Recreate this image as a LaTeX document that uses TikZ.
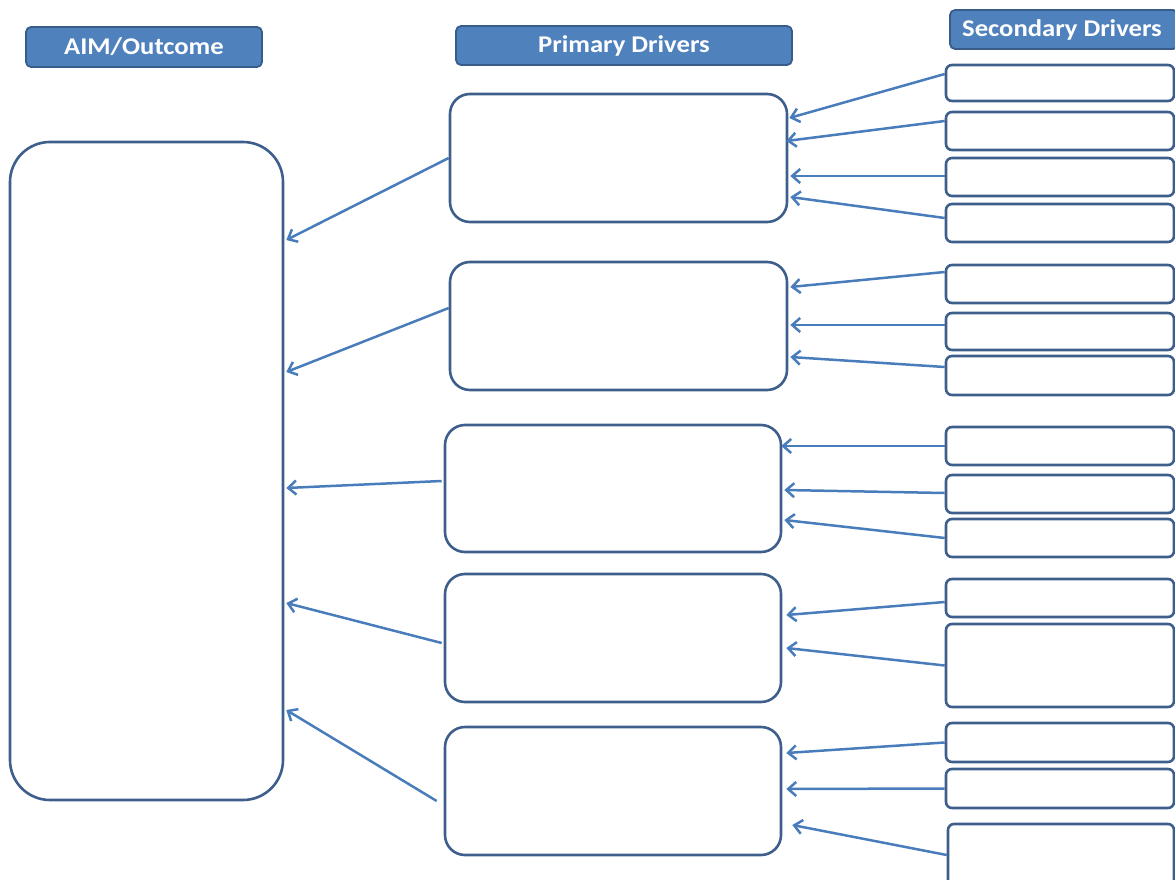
\documentclass[tikz,border=0pt]{standalone}
\usepackage{fontspec}
\newfontfamily\hdrfont[FakeStretch=1.11]{Carlito}
\usetikzlibrary{arrows.meta,calc}
\definecolor{hdrfill}{RGB}{79,129,189}
\definecolor{hdrdraw}{RGB}{56,93,138}
\definecolor{boxdraw}{RGB}{62,94,140}
\definecolor{arrcol}{RGB}{72,124,187}
\tikzset{
  hdr/.style={draw=hdrdraw, fill=hdrfill, line width=1.8pt, rounded corners=5pt,
    text=white, font=\hdrfont\bfseries\fontsize{24}{28}\selectfont, inner sep=0pt},
  aimbox/.style={draw=boxdraw, line width=2.6pt, rounded corners=40pt, inner sep=0pt},
  pbox/.style={draw=boxdraw, line width=2.6pt, rounded corners=20pt, inner sep=0pt,
    minimum height=128pt},
  sbox/.style={draw=boxdraw, line width=2.6pt, rounded corners=6pt, inner sep=0pt,
    minimum width=228pt},
  conn/.style={draw=arrcol, line width=2.5pt, -{Straight Barb[length=8pt,width=14pt]}},
}
\begin{document}
\begin{tikzpicture}[x=1pt,y=-1pt]
\useasboundingbox (0,0) rectangle (1175,880);
\begin{scope}
\clip (0,0) rectangle (1175,880);
% headers
\node[hdr, minimum width=236pt, minimum height=40pt] (h1) at (144,47) {AIM/Outcome};
\node[hdr, minimum width=336pt, minimum height=39pt] (h2) at (624,45.5) {\raisebox{3pt}{Primary Drivers}};
\node[hdr, minimum width=228pt, minimum height=39pt] (h3) at (1064,29.5) {\hspace*{-4pt}Secondary Drivers};
% aim box
\node[aimbox, minimum width=273pt, minimum height=658pt] (aim) at (146.5,471) {};
% primary
\node[pbox, minimum width=337pt] (p1) at (618.5,158) {};
\node[pbox, minimum width=337pt] (p2) at (618.5,326) {};
\node[pbox, minimum width=336pt, minimum height=127pt] (p3) at (613,488.5) {};
\node[pbox, minimum width=336pt] (p4) at (613,638) {};
\node[pbox, minimum width=336pt] (p5) at (613,791) {};
% secondary
\node[sbox, minimum height=36pt] (s1) at (1060,83) {};
\node[sbox, minimum height=38pt] (s2) at (1060,131) {};
\node[sbox, minimum height=38pt] (s3) at (1060,177) {};
\node[sbox, minimum height=38pt] (s4) at (1060,223) {};
\node[sbox, minimum height=38pt] (s5) at (1060,284) {};
\node[sbox, minimum height=37pt] (s6) at (1060,331.5) {};
\node[sbox, minimum height=39pt] (s7) at (1060,375.5) {};
\node[sbox, minimum height=38pt] (s8) at (1060,446) {};
\node[sbox, minimum height=38pt] (s9) at (1060,494) {};
\node[sbox, minimum height=38pt] (s10) at (1060,538) {};
\node[sbox, minimum height=38pt] (s11) at (1060,598) {};
\node[sbox, minimum height=83pt] (s12) at (1060,665.5) {};
\node[sbox, minimum height=39pt] (s13) at (1060,742.5) {};
\node[sbox, minimum height=39pt] (s14) at (1060,788.5) {};
\node[sbox, minimum height=76pt, minimum width=226pt] (s15) at (1061,862) {};
% secondary -> primary
\draw[conn] ($(s1.west)+(0,-9)$) -- ($(p1.east)+(1,-40)$);
\draw[conn] ($(s2.west)+(0,-10)$) -- ($(p1.east)+(-2,-17)$);
\draw[conn] ($(s3.west)+(0,-1)$) -- ($(p1.east)+(2,18)$);
\draw[conn] ($(s4.west)+(0,-5)$) -- ($(p1.east)+(2,39)$);
\draw[conn] ($(s5.west)+(0,-12)$) -- ($(p2.east)+(2,-39)$);
\draw[conn] ($(s6.west)+(0,-6.5)$) -- ($(p2.east)+(2,-1)$);
\draw[conn] ($(s7.west)+(0,-8.5)$) -- ($(p2.east)+(2,31)$);
\draw[conn] (s8.west) -- ($(p3.east)+(-1,-42.5)$);
\draw[conn] ($(s9.west)+(0,-1)$) -- ($(p3.east)+(2,1.5)$);
\draw[conn] (s10.west) -- ($(p3.east)+(2,31.5)$);
\draw[conn] ($(s11.west)+(0,4)$) -- ($(p4.east)+(4,-23)$);
\draw[conn] (s12.west) -- ($(p4.east)+(4,10)$);
\draw[conn] (s13.west) -- ($(p5.east)+(4,-38)$);
\draw[conn] (s14.west) -- ($(p5.east)+(4,-2)$);
\draw[conn] ($(s15.west)+(0,-7)$) -- ($(p5.east)+(10,34)$);
% primary -> aim
\draw[conn] (p1.west) -- ($(aim.east)+(2,-231)$);
\draw[conn] ($(p2.west)+(0,-18)$) -- ($(aim.east)+(2,-99)$);
\draw[conn] ($(p3.west)+(-2,-7.5)$) -- ($(aim.east)+(2,17)$);
\draw[conn] ($(p4.west)+(-2,5)$) -- ($(aim.east)+(2,132)$);
\draw[conn] ($(p5.west)+(-7,10)$) -- ($(aim.east)+(2,239)$);
\end{scope}
\end{tikzpicture}
\end{document}
